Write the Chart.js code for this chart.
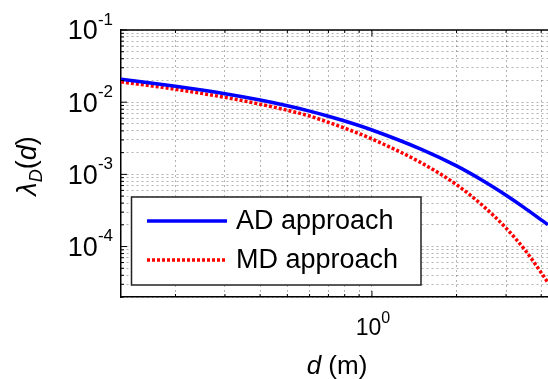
<!DOCTYPE html>
<html>
<head>
<meta charset="utf-8">
<script src="https://cdn.jsdelivr.net/npm/chart.js@4"></script>
<style>
  html, body { margin: 0; padding: 0; background: #fff; }
  #wrap { width: 548px; height: 379px; }
</style>
</head>
<body>
<div id="wrap"><canvas id="chart" width="548" height="379"></canvas></div>
<script>
// distance d (m) where the curves were read
const dValues = [0.128, 0.2, 0.3, 0.4, 0.5, 0.6, 0.7, 0.8, 1.0, 1.5, 2.0, 2.5, 3.0, 3.5, 4.0, 4.23];
// AD approach
const adValues = [0.02087, 0.01658, 0.01308, 0.01069, 0.00891, 0.00752, 0.00639, 0.00548, 0.00412, 0.00222, 0.00131, 0.000804, 0.000514, 0.000341, 0.000234, 0.000201];
// MD approach
const mdValues = [0.01913, 0.01511, 0.01166, 0.00938, 0.00772, 0.00643, 0.00526, 0.00437, 0.00309, 0.00144, 0.000719, 0.000358, 0.000180, 0.0000900, 0.0000435, 0.0000315];

const seriesLabels = ["AD approach", "MD approach"];
const yTickExponents = [-1, -2, -3, -4];
const xTickExponents = [0];

const xMin = 0.128, xMax = 4.23;
const yMin = 2e-5, yMax = 0.1;

const FONT = "'Liberation Sans', Arial, sans-serif";

// 1..9 x 10^n grid values inside a range
function logGrid(min, max) {
    const out = [];
    for (let e = Math.floor(Math.log10(min)); e <= Math.ceil(Math.log10(max)); e++) {
        for (let m = 1; m <= 9; m++) {
            const v = parseFloat((m * Math.pow(10, e)).toPrecision(6));
            if (v >= min * 0.999 && v <= max * 1.001) out.push(v);
        }
    }
    return out;
}

function powerLabel(ctx, x, y, exp, baseSize, expSize, align) {
    ctx.font = baseSize + "px " + FONT;
    const wb = ctx.measureText("10").width;
    ctx.font = expSize + "px " + FONT;
    const we = ctx.measureText(String(exp)).width;
    let x0 = align === "right" ? x - wb - we : x - (wb + we) / 2;
    ctx.textBaseline = "middle";
    ctx.textAlign = "left";
    ctx.font = baseSize + "px " + FONT;
    ctx.fillText("10", x0, y);
    ctx.font = expSize + "px " + FONT;
    ctx.fillText(String(exp), x0 + wb, y - baseSize * 0.44);
}

const decorPlugin = {
    id: "decor",
    afterDraw(chart) {
        const ctx = chart.ctx;
        const area = chart.chartArea;
        const xs = chart.scales.x, ys = chart.scales.y;
        ctx.save();

        // top box line
        ctx.strokeStyle = "#000";
        ctx.lineWidth = 1.5;
        ctx.beginPath();
        ctx.moveTo(area.left, area.top);
        ctx.lineTo(area.right, area.top);
        ctx.stroke();

        // inward tick marks
        ctx.lineWidth = 1;
        ys.ticks.forEach(t => {
            const y = ys.getPixelForValue(t.value);
            const major = Math.abs(Math.log10(t.value) % 1) < 1e-6;
            const len = major ? 6 : 3;
            ctx.beginPath();
            ctx.moveTo(area.left, y);
            ctx.lineTo(area.left + len, y);
            ctx.stroke();
        });
        xs.ticks.forEach(t => {
            const x = xs.getPixelForValue(t.value);
            const major = Math.abs(Math.log10(t.value) % 1) < 1e-6;
            const len = major ? 6 : 3;
            ctx.beginPath();
            ctx.moveTo(x, area.bottom);
            ctx.lineTo(x, area.bottom - len);
            ctx.moveTo(x, area.top);
            ctx.lineTo(x, area.top + len);
            ctx.stroke();
        });

        // tick labels
        ctx.fillStyle = "#000";
        yTickExponents.forEach(e => {
            const y = ys.getPixelForValue(Math.pow(10, e));
            powerLabel(ctx, 113, y + 2, e, 27, 17, "right");
        });
        xTickExponents.forEach(e => {
            const x = xs.getPixelForValue(Math.pow(10, e));
            powerLabel(ctx, x + 1, 329, e, 23, 16, "center");
        });

        // x title: d (m)
        ctx.textBaseline = "middle";
        ctx.textAlign = "left";
        ctx.font = "italic 26px " + FONT;
        const wd = ctx.measureText("d").width;
        ctx.font = "26px " + FONT;
        const wr = ctx.measureText(" (m)").width;
        let tx = 337 - (wd + wr) / 2;
        ctx.font = "italic 26px " + FONT;
        ctx.fillText("d", tx, 367);
        ctx.font = "26px " + FONT;
        ctx.fillText(" (m)", tx + wd, 367);

        // y title: lambda_D(d)
        ctx.save();
        ctx.translate(28, 166);
        ctx.rotate(-Math.PI / 2);
        ctx.font = "italic 27px " + FONT;
        const wl = ctx.measureText("\u03bb").width;
        ctx.font = "italic 18px " + FONT;
        const wD = ctx.measureText("D").width;
        ctx.font = "27px " + FONT;
        const wp = ctx.measureText("(").width;
        ctx.font = "italic 27px " + FONT;
        const wdd = ctx.measureText("d").width;
        const total = wl + wD + wp * 2 + wdd;
        let px = -total / 2;
        ctx.font = "italic 27px " + FONT;
        ctx.fillText("\u03bb", px, 0); px += wl;
        ctx.font = "italic 18px " + FONT;
        ctx.fillText("D", px, 9); px += wD;
        ctx.font = "27px " + FONT;
        ctx.fillText("(", px, 0); px += wp;
        ctx.font = "italic 27px " + FONT;
        ctx.fillText("d", px, 0); px += wdd;
        ctx.font = "27px " + FONT;
        ctx.fillText(")", px, 0);
        ctx.restore();

        // legend box
        const lx = 131.5, ly = 197, lw = 289.5, lh = 88;
        ctx.fillStyle = "#fff";
        ctx.fillRect(lx, ly, lw, lh);
        ctx.strokeStyle = "#222";
        ctx.lineWidth = 1.5;
        ctx.strokeRect(lx, ly, lw, lh);
        chart.data.datasets.forEach((ds, i) => {
            const yy = 221 + i * 39;
            ctx.save();
            ctx.strokeStyle = ds.borderColor;
            ctx.lineWidth = ds.borderWidth;
            ctx.setLineDash(ds.borderDash || []);
            ctx.beginPath();
            ctx.moveTo(147, yy);
            ctx.lineTo(227, yy);
            ctx.stroke();
            ctx.restore();
            ctx.fillStyle = "#000";
            ctx.font = "27px " + FONT;
            ctx.textBaseline = "middle";
            ctx.textAlign = "left";
            ctx.fillText(ds.label, 236, yy + 1);
        });
        ctx.restore();
    }
};

const gridStyle = { color: "rgba(0,0,0,0.3)", lineWidth: 1, drawTicks: false };

new Chart(document.getElementById("chart"), {
    type: "line",
    data: {
        datasets: [
            {
                label: seriesLabels[0],
                data: dValues.map((d, i) => ({ x: d, y: adValues[i] })),
                borderColor: "#0000ff",
                borderWidth: 3.5,
                pointRadius: 0,
                cubicInterpolationMode: "monotone",
                fill: false,
            },
            {
                label: seriesLabels[1],
                data: dValues.map((d, i) => ({ x: d, y: mdValues[i] })),
                borderColor: "#ff0000",
                borderWidth: 3.5,
                borderDash: [3, 2],
                borderCapStyle: "butt",
                pointRadius: 0,
                cubicInterpolationMode: "monotone",
                fill: false,
            },
        ],
    },
    options: {
        responsive: false,
        animation: false,
        layout: { padding: { left: 121, top: 30, right: 0, bottom: 82 } },
        plugins: { legend: { display: false }, tooltip: { enabled: false } },
        scales: {
            x: {
                type: "logarithmic",
                min: xMin,
                max: xMax,
                ticks: { display: false },
                grid: gridStyle,
                border: { display: true, color: "#000", width: 1.5, dash: [2, 3] },
                afterBuildTicks: s => { s.ticks = logGrid(xMin, xMax).map(v => ({ value: v })); },
            },
            y: {
                type: "logarithmic",
                min: yMin,
                max: yMax,
                ticks: { display: false },
                grid: gridStyle,
                border: { display: true, color: "#000", width: 1.5, dash: [2, 3] },
                afterBuildTicks: s => { s.ticks = logGrid(yMin, yMax).map(v => ({ value: v })); },
            },
        },
    },
    plugins: [decorPlugin],
});
</script>
</body>
</html>
